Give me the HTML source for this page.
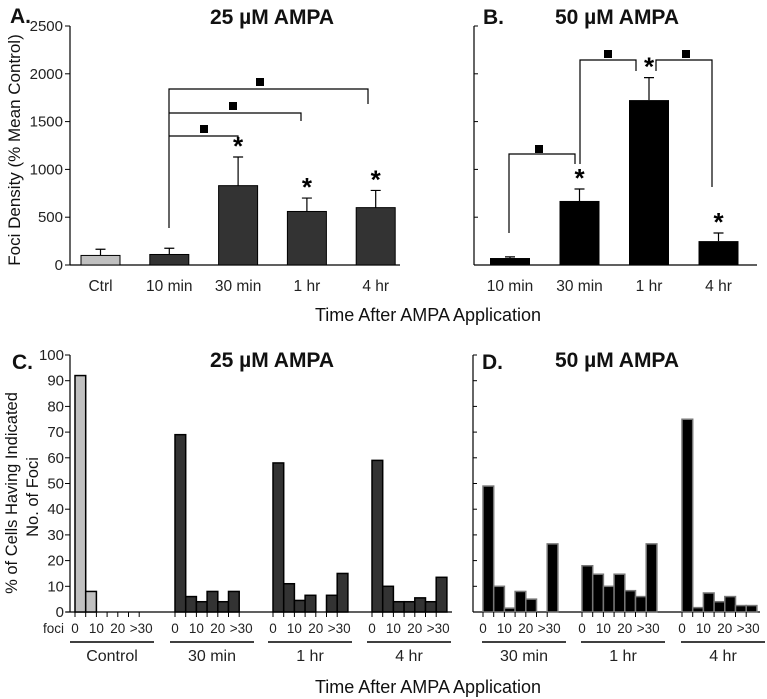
<!DOCTYPE html>
<html><head><meta charset="utf-8"><style>
body{margin:0;background:#fff;}
svg{display:block;font-family:"Liberation Sans",Arial,sans-serif;}
</style></head><body>
<svg id="fig" width="767" height="699" viewBox="0 0 767 699" xmlns="http://www.w3.org/2000/svg">
<g id="gA"></g>
<g id="gB"></g>
<g id="gC"></g>
<g id="gD"></g>
<g id="gT"></g>
</svg>
<script>
// Panel A data
const catsA = ["Ctrl","10 min","30 min","1 hr","4 hr"];
const valsA = [100,110,830,560,600];
const errsA = [165,175,1130,700,780];
const sigA = [false,false,true,true,true];
const ticksA = [0,500,1000,1500,2000,2500];
// Panel B data
const catsB = ["10 min","30 min","1 hr","4 hr"];
const valsB = [73,670,1725,250];
const errsB = [85,795,1960,335];
const sigB = [false,true,true,true];
// Panel C data (bins 0..>30)
const binLabels = ["0","10","20",">30"];
const groupsC = ["Control","30 min","1 hr","4 hr"];
const ctrlC = [92,8,0,0,0,0,0];
const m30C = [69,6,4,8,4,8,0];
const h1C = [58,11,4.5,6.5,0,6.5,15];
const h4C = [59,10,4,4,5.5,4,13.5];
const ticksC = [0,10,20,30,40,50,60,70,80,90,100];
// Panel D data
const groupsD = ["30 min","1 hr","4 hr"];
const m30D = [49,10,1.5,8,5,0,26.5];
const h1D = [18,14.7,10,14.7,8.3,6,26.5];
const h4D = [75,1.7,7.4,4,6,2.5,2.5];

const NS="http://www.w3.org/2000/svg";
function mk(parent,tag,attrs,text){const e=document.createElementNS(NS,tag);for(const k in attrs)e.setAttribute(k,attrs[k]);if(text!==undefined)e.textContent=text;parent.appendChild(e);return e;}

const y0T=265, pxPerT=239/2500;
const yT=v=>y0T-v*pxPerT;

const gA=document.getElementById('gA');
let l;
l=mk(gA,'line',{x1:70,y1:26,x2:70,y2:265,stroke:'#000','stroke-width':1.2});

l=mk(gA,'line',{x1:70,y1:265,x2:400,y2:265,stroke:'#000','stroke-width':1.2});

ticksA.forEach(t=>{
  let tk=mk(gA,'line',{x1:65,y1:yT(t),x2:70,y2:yT(t),stroke:'#000'});
  
  let tx=mk(gA,'text',{x:63,y:yT(t)+5,'text-anchor':'end','font-size':15,fill:'#222'},t);
  
});
const xA=i=>81+i*68.8;
catsA.forEach((c,i)=>{
  const x=xA(i),w=39,cx=x+w/2;
  let r=mk(gA,'rect',{x:x,y:yT(valsA[i]),width:w,height:y0T-yT(valsA[i]),fill:i==0?'#c0c0c0':'#333',stroke:'#000','stroke-width':1});
  
  let e=mk(gA,'path',{d:`M${cx} ${yT(valsA[i])}V${yT(errsA[i])}M${cx-5} ${yT(errsA[i])}H${cx+5}`,stroke:'#000','stroke-width':1.2,fill:'none'});
  
  let tx=mk(gA,'text',{x:cx,y:291,'text-anchor':'middle','font-size':15.5,fill:'#222'},c);
  
  if(sigA[i]){let s=mk(gA,'text',{x:cx,y:yT(errsA[i])-2,'text-anchor':'middle','font-size':26,'font-weight':'bold'},'*');
  }
});
function bracket(g,d,sx,sy){
  let p=mk(g,'path',{d:d,stroke:'#000','stroke-width':1.2,fill:'none'});
  
  let s=mk(g,'rect',{x:sx-4,y:sy-4,width:8,height:8,fill:'#000'});
  
}
bracket(gA,'M169 228V89H368V104M169 113H301V121M169 136H238V140',204,129);
bracket(gA,'',233,106);
bracket(gA,'',260,82);

const gB=document.getElementById('gB');
l=mk(gB,'line',{x1:474,y1:26,x2:474,y2:265,stroke:'#000','stroke-width':1.2});

l=mk(gB,'line',{x1:474,y1:265,x2:757,y2:265,stroke:'#000','stroke-width':1.2});

ticksA.forEach(t=>{let tk=mk(gB,'line',{x1:474,y1:yT(t),x2:478,y2:yT(t),stroke:'#000'});
  });
const xB=i=>490+i*69.5;
catsB.forEach((c,i)=>{
  const x=xB(i),w=40,cx=x+w/2;
  let r=mk(gB,'rect',{x:x,y:yT(valsB[i]),width:w,height:y0T-yT(valsB[i]),fill:'#000'});
  
  let e=mk(gB,'path',{d:`M${cx} ${yT(valsB[i])}V${yT(errsB[i])}M${cx-5} ${yT(errsB[i])}H${cx+5}`,stroke:'#000','stroke-width':1.2,fill:'none'});
  
  let tx=mk(gB,'text',{x:cx,y:291,'text-anchor':'middle','font-size':15.5,fill:'#222'},c);
  
  if(sigB[i]){let s=mk(gB,'text',{x:cx,y:yT(errsB[i])-2,'text-anchor':'middle','font-size':26,'font-weight':'bold'},'*');
  }
});
bracket(gB,'M509 233V154H575V164M580 164V60H636V71M656 71V60H712V187',539,149);
bracket(gB,'',608,54);
bracket(gB,'',686,54);

const y0C=612, pxC=257/100;
const yC=v=>y0C-v*pxC;
const bw=10.7;
function histGroup(g,start,vals,fill,stroke,name){
  vals.forEach((v,j)=>{
    if(v<=0)return;
    let r=mk(g,'rect',{x:start+j*bw,y:yC(v),width:bw,height:y0C-yC(v),fill:fill,stroke:stroke,'stroke-width':1.5});
    
  });
  for(let k=0;k<7;k++){
    let tk=mk(g,'line',{x1:start+k*bw,y1:y0C,x2:start+k*bw,y2:y0C+5,stroke:'#000'});
    
  }
  binLabels.forEach((b,k)=>{
    let tx=mk(g,'text',{x:start+k*2*bw+(k==3?2:0),y:633,'text-anchor':'middle','font-size':13.5,fill:'#222'},b);
    
  });
}
function groupLabel(g,x1,x2,txt){
  let ln=mk(g,'line',{x1:x1,y1:642,x2:x2,y2:642,stroke:'#000','stroke-width':1.5});
  
  let tx=mk(g,'text',{x:(x1+x2)/2,y:661,'text-anchor':'middle','font-size':16,fill:'#222'},txt);
  
}
const gC=document.getElementById('gC');
l=mk(gC,'line',{x1:70,y1:355,x2:70,y2:612,stroke:'#000','stroke-width':1.2});

l=mk(gC,'line',{x1:66,y1:612,x2:452,y2:612,stroke:'#000','stroke-width':1.2});

ticksC.forEach(t=>{
  let tk=mk(gC,'line',{x1:65,y1:yC(t),x2:70,y2:yC(t),stroke:'#000'});
  
  let tx=mk(gC,'text',{x:64,y:yC(t)+5,'text-anchor':'end','font-size':15,fill:'#222'},t);
  
});
const startsC=[75,175,273,372];
histGroup(gC,startsC[0],ctrlC,'#c0c0c0','#000','control');
histGroup(gC,startsC[1],m30C,'#333','#000','c-30min');
histGroup(gC,startsC[2],h1C,'#333','#000','c-1hr');
histGroup(gC,startsC[3],h4C,'#333','#000','c-4hr');
groupsC.forEach((g,i)=>groupLabel(gC,startsC[i]-5,startsC[i]+79,g));
let fo=mk(gC,'text',{x:43,y:633,'font-size':13.5,fill:'#222'},'foci');


const gD=document.getElementById('gD');
l=mk(gD,'line',{x1:473,y1:355,x2:473,y2:612,stroke:'#000','stroke-width':1.2});

l=mk(gD,'line',{x1:473,y1:612,x2:760,y2:612,stroke:'#000','stroke-width':1.2});

ticksC.forEach(t=>{let tk=mk(gD,'line',{x1:473,y1:yC(t),x2:477,y2:yC(t),stroke:'#000'});
  });
const startsD=[483,582,682];
histGroup(gD,startsD[0],m30D,'#000','#777','d-30min');
histGroup(gD,startsD[1],h1D,'#000','#777','d-1hr');
histGroup(gD,startsD[2],h4D,'#000','#777','d-4hr');
groupsD.forEach((g,i)=>groupLabel(gD,startsD[i]-1,startsD[i]+83,g));

const gT=document.getElementById('gT');
function txt(x,y,s,size,extra,name){const a={x:x,y:y,'font-size':size,fill:'#111'};Object.assign(a,extra||{});
  let t=mk(gT,'text',a,s);return t;}
txt(10,23,'A.',21,{'font-weight':'bold'},'panel-label-a');
txt(272,24,'25 µM AMPA',21,{'font-weight':'bold','text-anchor':'middle'},'title-a');
txt(483,24,'B.',21,{'font-weight':'bold'},'panel-label-b');
txt(617,24,'50 µM AMPA',21,{'font-weight':'bold','text-anchor':'middle'},'title-b');
txt(428,321,'Time After AMPA Application',18,{'text-anchor':'middle'},'x-axis-title-top');
txt(12,369,'C.',21,{'font-weight':'bold'},'panel-label-c');
txt(272,367,'25 µM AMPA',21,{'font-weight':'bold','text-anchor':'middle'},'title-c');
txt(482,369,'D.',21,{'font-weight':'bold'},'panel-label-d');
txt(617,367,'50 µM AMPA',21,{'font-weight':'bold','text-anchor':'middle'},'title-d');
txt(428,693,'Time After AMPA Application',18,{'text-anchor':'middle'},'x-axis-title-bottom');
txt(0,0,'Foci Density (% Mean Control)',17,{'text-anchor':'middle',transform:'translate(20,150) rotate(-90)'},'y-axis-title-a');
txt(0,0,'% of Cells Having Indicated',16.5,{'text-anchor':'middle',transform:'translate(17,493) rotate(-90)'},'y-axis-title-c-line1');
txt(0,0,'No. of Foci',16.5,{'text-anchor':'middle',transform:'translate(38,497) rotate(-90)'},'y-axis-title-c-line2');
</script>
</body></html>
